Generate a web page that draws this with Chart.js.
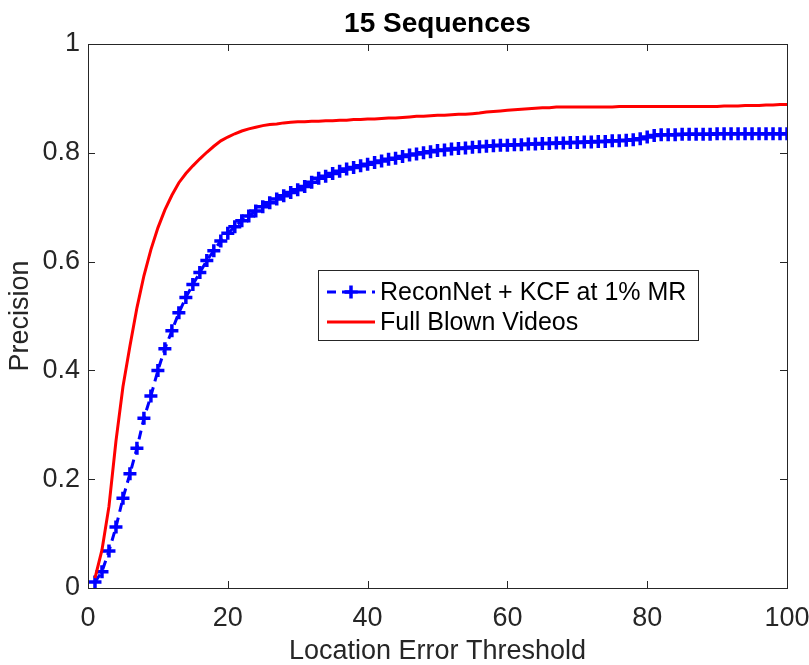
<!DOCTYPE html>
<html>
<head>
<meta charset="utf-8">
<script src="https://cdn.jsdelivr.net/npm/chart.js@4.4.1/dist/chart.umd.min.js"></script>
<style>
    body { margin: 0; background: #ffffff; }
    canvas { display: block; }
</style>
</head>
<body>
<canvas id="grafico" width="809" height="665"></canvas>
<script>
// Location error thresholds (pixels)
const limiares = [1, 2, 3, 4, 5, 6, 7, 8, 9, 10,
    11, 12, 13, 14, 15, 16, 17, 18, 19, 20,
    21, 22, 23, 24, 25, 26, 27, 28, 29, 30,
    31, 32, 33, 34, 35, 36, 37, 38, 39, 40,
    41, 42, 43, 44, 45, 46, 47, 48, 49, 50,
    51, 52, 53, 54, 55, 56, 57, 58, 59, 60,
    61, 62, 63, 64, 65, 66, 67, 68, 69, 70,
    71, 72, 73, 74, 75, 76, 77, 78, 79, 80,
    81, 82, 83, 84, 85, 86, 87, 88, 89, 90,
    91, 92, 93, 94, 95, 96, 97, 98, 99, 100];

// ReconNet + KCF at 1% MR
const precisaoReconNet = [0.011, 0.03, 0.068, 0.112, 0.165, 0.21, 0.257, 0.312, 0.353, 0.40,
    0.44, 0.473, 0.506, 0.534, 0.558, 0.58, 0.602, 0.62, 0.638, 0.652,
    0.664, 0.675, 0.684, 0.693, 0.701, 0.708, 0.715, 0.721, 0.727, 0.732,
    0.738, 0.746, 0.753, 0.757, 0.762, 0.766, 0.77, 0.773, 0.776, 0.779,
    0.782, 0.785, 0.788, 0.79, 0.793, 0.796, 0.798, 0.80, 0.802, 0.804,
    0.805, 0.807, 0.808, 0.809, 0.81, 0.811, 0.812, 0.813, 0.814, 0.814,
    0.815, 0.815, 0.816, 0.816, 0.817, 0.817, 0.818, 0.818, 0.819, 0.819,
    0.82, 0.82, 0.821, 0.821, 0.822, 0.822, 0.823, 0.824, 0.826, 0.829,
    0.832, 0.833, 0.833, 0.833, 0.834, 0.834, 0.834, 0.834, 0.834, 0.835,
    0.835, 0.835, 0.835, 0.835, 0.835, 0.835, 0.835, 0.835, 0.835, 0.835];

// Full blown videos
const precisaoCompleto = [0.018, 0.07, 0.15, 0.27, 0.37, 0.445, 0.515, 0.574, 0.622, 0.662,
    0.695, 0.722, 0.745, 0.762, 0.776, 0.789, 0.801, 0.812, 0.822, 0.829,
    0.835, 0.84, 0.844, 0.847, 0.85, 0.852, 0.853, 0.855, 0.856, 0.857,
    0.857, 0.858, 0.858, 0.859, 0.859, 0.86, 0.86, 0.861, 0.861, 0.862,
    0.862, 0.863, 0.864, 0.864, 0.865, 0.866, 0.867, 0.867, 0.868, 0.869,
    0.869, 0.87, 0.871, 0.871, 0.872, 0.873, 0.875, 0.876, 0.877, 0.878,
    0.879, 0.88, 0.881, 0.882, 0.883, 0.883, 0.884, 0.884, 0.884, 0.884,
    0.884, 0.884, 0.884, 0.884, 0.884, 0.885, 0.885, 0.885, 0.885, 0.885,
    0.885, 0.885, 0.885, 0.885, 0.885, 0.885, 0.885, 0.885, 0.885, 0.885,
    0.886, 0.886, 0.886, 0.887, 0.887, 0.887, 0.888, 0.888, 0.889, 0.889];

const nomesSeries = ["ReconNet + KCF at 1% MR", "Full Blown Videos"];
const tituloGrafico = "15 Sequences";
const ticksX = [0, 20, 40, 60, 80, 100];
const ticksY = [0, 0.2, 0.4, 0.6, 0.8, 1];
const rotulosY = ["0", "0.2", "0.4", "0.6", "0.8", "1"];

const corEixo = "#262626";
const fonte = "'Liberation Sans', Arial, sans-serif";

function pontos(valores) {
    return limiares.map((x, i) => ({ x: x, y: valores[i] }));
}

// Title centred over the axes box
const tituloEixos = {
    id: "tituloEixos",
    afterDraw(chart) {
        const { ctx, chartArea: a } = chart;
        ctx.save();
        ctx.fillStyle = "#000000";
        ctx.font = "bold 28px " + fonte;
        ctx.textAlign = "center";
        ctx.textBaseline = "alphabetic";
        ctx.fillText(tituloGrafico, (a.left + a.right) / 2, 32);
        ctx.restore();
    }
};

// Box around the axes with inward ticks (MATLAB style)
const caixaEixos = {
    id: "caixaEixos",
    afterDatasetsDraw(chart) {
        const { ctx, chartArea: a, scales } = chart;
        const len = 7;
        ctx.save();
        ctx.strokeStyle = corEixo;
        ctx.lineWidth = 1;
        ctx.strokeRect(a.left + 0.5, a.top + 0.5, a.right - a.left, a.bottom - a.top);
        ctx.beginPath();
        ticksX.forEach(v => {
            const px = Math.round(scales.x.getPixelForValue(v)) + 0.5;
            ctx.moveTo(px, a.bottom); ctx.lineTo(px, a.bottom - len);
            ctx.moveTo(px, a.top); ctx.lineTo(px, a.top + len);
        });
        ticksY.forEach(v => {
            const py = Math.round(scales.y.getPixelForValue(v)) + 0.5;
            ctx.moveTo(a.left, py); ctx.lineTo(a.left + len, py);
            ctx.moveTo(a.right, py); ctx.lineTo(a.right - len, py);
        });
        ctx.stroke();
        ctx.restore();
    }
};

// Legend box inside the plot
const legendaInterna = {
    id: "legendaInterna",
    afterDraw(chart) {
        const { ctx } = chart;
        const x0 = 318, y0 = 270, w = 380, h = 70;
        ctx.save();
        ctx.fillStyle = "#ffffff";
        ctx.fillRect(x0, y0, w, h);
        ctx.strokeStyle = corEixo;
        ctx.lineWidth = 1;
        ctx.strokeRect(x0 + 0.5, y0 + 0.5, w, h);

        const linhas = [y0 + 22, y0 + 52];
        chart.data.datasets.forEach((ds, i) => {
            const y = linhas[i];
            ctx.strokeStyle = ds.borderColor;
            ctx.lineWidth = ds.borderWidth;
            ctx.setLineDash(ds.borderDash || []);
            ctx.beginPath();
            ctx.moveTo(327, y);
            ctx.lineTo(375, y);
            ctx.stroke();
            ctx.setLineDash([]);
            if (ds.pointRadius > 0) {
                ctx.lineWidth = ds.pointBorderWidth;
                ctx.beginPath();
                ctx.moveTo(351 - ds.pointRadius, y); ctx.lineTo(351 + ds.pointRadius, y);
                ctx.moveTo(351, y - ds.pointRadius); ctx.lineTo(351, y + ds.pointRadius);
                ctx.stroke();
            }
            ctx.fillStyle = "#000000";
            ctx.font = "25px " + fonte;
            ctx.textAlign = "left";
            ctx.textBaseline = "middle";
            ctx.fillText(ds.label, 380, y + 1);
        });
        ctx.restore();
    }
};

const ctx = document.getElementById("grafico").getContext("2d");

new Chart(ctx, {
    type: "line",
    data: {
        datasets: [
            {
                label: nomesSeries[0],
                data: pontos(precisaoReconNet),
                borderColor: "#0000ff",
                backgroundColor: "#0000ff",
                borderWidth: 3,
                borderDash: [9, 6],
                pointStyle: "cross",
                pointRadius: 6.5,
                pointBorderWidth: 3.5,
                pointBorderColor: "#0000ff",
                tension: 0,
                order: 1
            },
            {
                label: nomesSeries[1],
                data: pontos(precisaoCompleto),
                borderColor: "#ff0000",
                backgroundColor: "#ff0000",
                borderWidth: 3,
                pointRadius: 0,
                tension: 0,
                order: 0
            }
        ]
    },
    options: {
        responsive: false,
        animation: false,
        layout: { padding: { left: 0, right: 22, top: 44, bottom: 0 } },
        plugins: {
            legend: { display: false },
            tooltip: { enabled: false },
            title: { display: false }
        },
        scales: {
            x: {
                type: "linear",
                min: 0,
                max: 100,
                afterBuildTicks: s => { s.ticks = ticksX.map(v => ({ value: v })); },
                afterFit: s => {
                    s.height = 77;
                    s.paddingLeft = 0;
                    s.paddingRight = 0;
                },
                ticks: {
                    color: corEixo,
                    font: { family: fonte, size: 27 },
                    padding: 14,
                    maxRotation: 0
                },
                grid: { display: false, drawTicks: false },
                border: { display: false },
                title: {
                    display: true,
                    text: "Location Error Threshold",
                    color: corEixo,
                    font: { family: fonte, size: 27, lineHeight: 1 },
                    padding: { top: 0, bottom: 0 }
                }
            },
            y: {
                type: "linear",
                min: 0,
                max: 1,
                afterBuildTicks: s => { s.ticks = ticksY.map(v => ({ value: v })); },
                afterFit: s => {
                    s.width = 88;
                    s.paddingTop = 0;
                    s.paddingBottom = 0;
                },
                ticks: {
                    color: corEixo,
                    font: { family: fonte, size: 27 },
                    padding: 8,
                    callback: (v) => rotulosY[ticksY.indexOf(v)]
                },
                grid: { display: false, drawTicks: false },
                border: { display: false },
                title: {
                    display: true,
                    text: "Precision",
                    color: corEixo,
                    font: { family: fonte, size: 27, lineHeight: 1 },
                    padding: { top: 7, bottom: 0 }
                }
            }
        }
    },
    plugins: [caixaEixos, legendaInterna, tituloEixos]
});
</script>
</body>
</html>
